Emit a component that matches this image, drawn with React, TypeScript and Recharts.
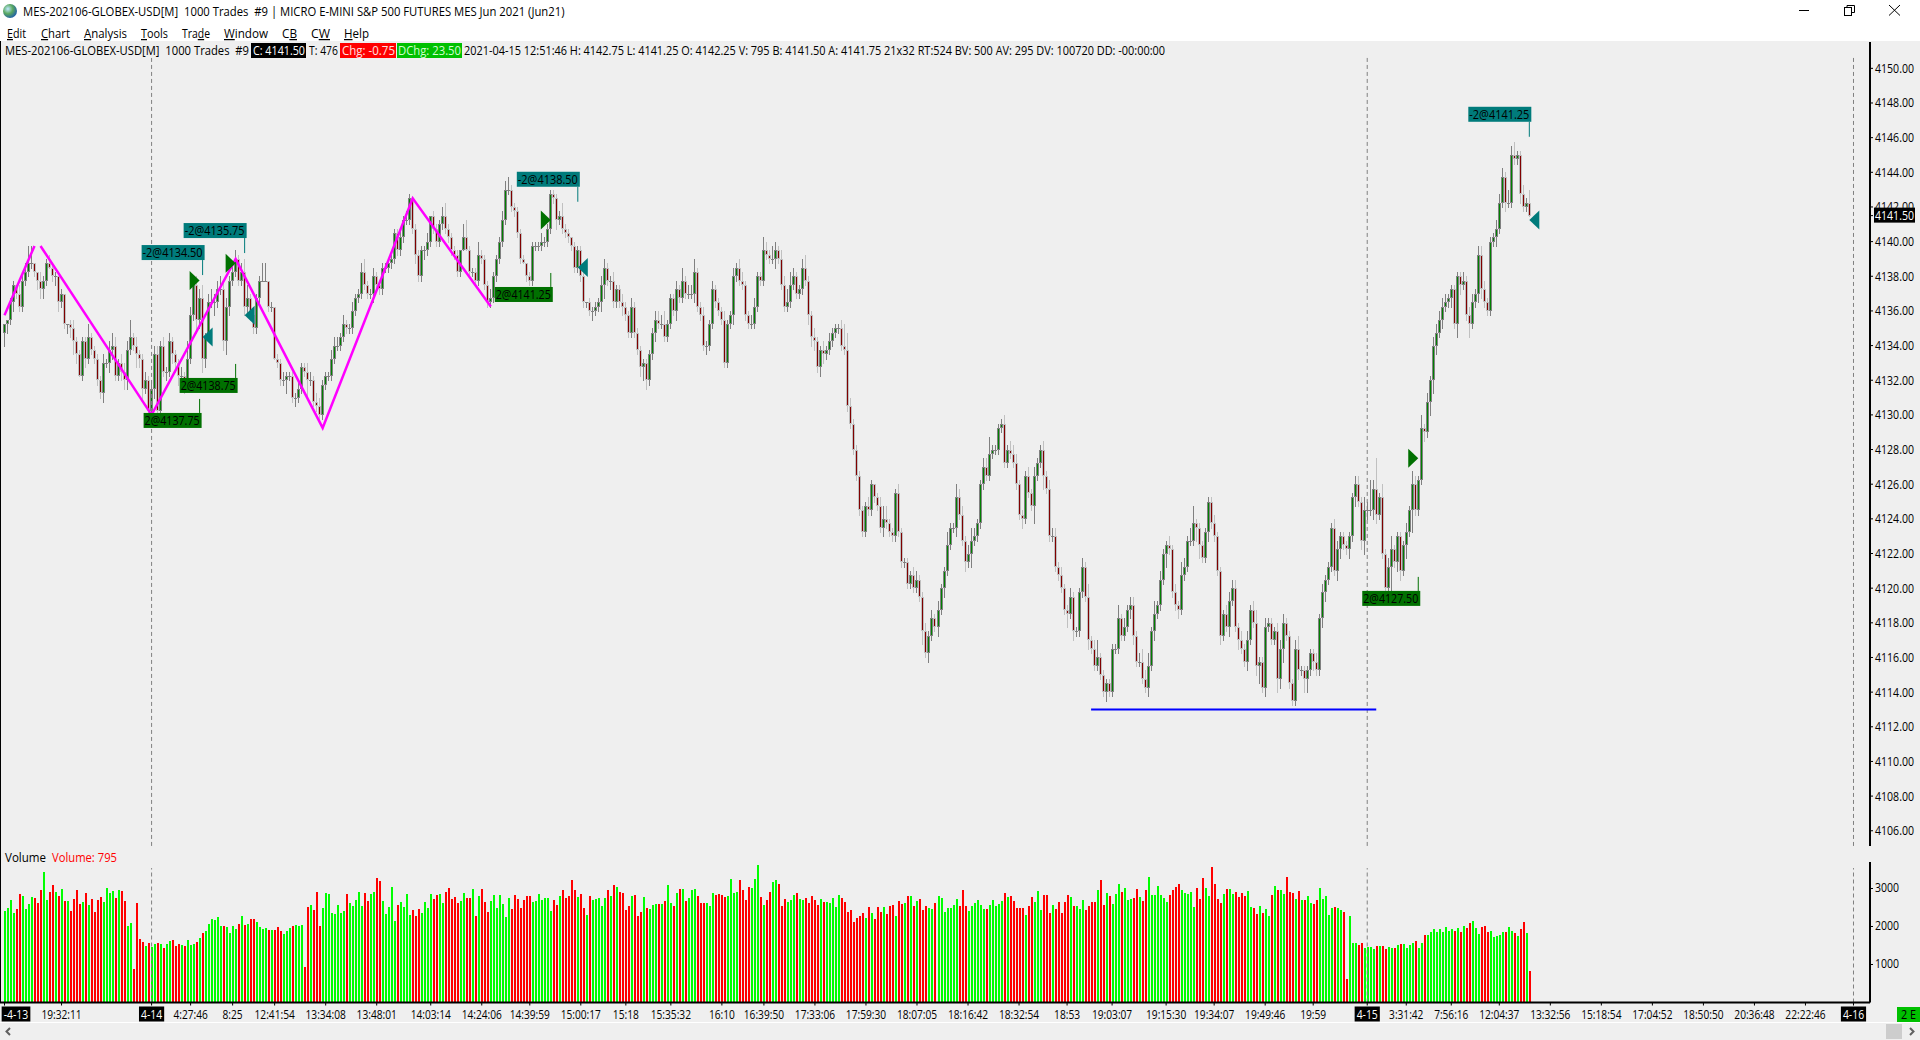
import React from 'react';
import { Bar, ComposedChart, Line, ReferenceDot, ReferenceLine, XAxis, YAxis } from 'recharts';

const BASE = 4100;
const SLOT_COUNT = 623;
const FONT = '"Open Sans", sans-serif';

// closes of the 1000-trade bars, as points above 4100. Each bar opens on the previous close.
const firstOpen = 34.75;
const closes = [
  35.25,35.5,36.5,37.5,37,36.25,37.75,38.25,38.75,38.75,
  38.25,37.75,37.25,37.75,38.75,38.5,38,38,36.5,37,
  35.25,35.25,35,34.25,33.5,32.25,34.25,33.25,34.5,33.75,
  33.25,32,31.25,33,33,33.75,34,32.25,33,32.5,
  32,33.75,34.5,34,33.5,33.25,31.5,32,30.25,31.5,
  33.5,30.25,34,32.5,32.5,34.25,33.5,33,32.25,32.25,
  32,33.25,35.75,37.5,35.5,36.75,33.25,34.5,36.5,36.5,
  36.5,37.25,37.25,34.25,36.25,37.75,38.25,39,37.75,38.25,
  36.25,36.75,35.75,35,36.75,37.75,37.75,37.75,36.25,36.25,
  33.25,33,32,32,32.25,32.25,31,31,31.5,32.75,
  32.5,32,32,30.75,30.5,30,31.75,32.25,32.25,33.25,
  34,34,34.5,35.25,35,35,36,36.75,37,38.25,
  37.5,37,37,38,37.5,37.25,38.5,38.5,38.75,39,
  40.5,39.5,40.25,41.25,41.25,42.5,40.75,39.25,38,39.5,
  39.5,40,41.5,40.75,40,41,41.5,40.75,40.25,39.5,
  39.25,38.25,39.5,40.25,39.5,38.25,38.25,37.75,39.25,39,
  37.5,36.5,36.75,38,39,40,41.25,43,43,42,
  41.75,40.5,39,38.75,38,37.75,39.75,39.75,39.75,40,
  40,40.75,42.75,42.5,41.25,41.5,40.75,40.5,40.25,39.75,
  38.5,39.5,38,36.5,36.5,36,36,36.25,36.5,37.5,
  38.5,37.75,37.75,36.5,37.25,36.5,36.25,35.75,34.75,36.25,
  34.75,33.75,32.75,33,32,33.5,34.75,35.5,35.25,35.25,
  34.5,35.25,36.75,36,37.25,36.75,37.75,37,37,37,
  38.25,36.25,35.75,34,34,35.25,37.25,36.5,36,35.5,
  33,35.25,35.75,38,38.5,37.75,37.5,35.75,35.25,35.25,
  36.25,38,37.75,39.5,39.25,39,39,39.5,39,37.5,
  36.25,36.5,37.5,38,37,37.25,38.5,37.75,35.75,34.5,
  34.25,32.75,33.75,33.5,33.75,34.25,34.75,35,35,34,
  33.75,30.5,29.5,28,26.5,24.5,23.25,24.75,24.5,26,
  25.25,24.75,23.5,24,23.75,23.25,23,25.5,23.25,21.5,
  21.5,20.25,20.75,20,20.5,19.5,17.5,16.25,17.25,18.25,
  17.75,18.75,20,21,22.5,23.5,23.5,25.25,24.25,22.75,
  21.5,22,22.75,23,23.75,26,27,26.5,27.75,28,
  28,29.25,29.5,27.25,28,27.75,27.25,26,24.25,24,
  26.5,25.5,24.75,26.5,27.25,28,26.5,25.75,23,23,
  21.25,20.75,20,18.75,18.5,19.5,17.5,17.5,19.75,21.25,
  19.5,17,16.5,15.5,16,15,14,14.5,14,16.5,
  16.5,18.25,17.25,17.75,18.75,19,17.25,15.75,15.75,14.75,
  14.25,15.5,17.5,18.5,19,20.5,22,22.5,22.25,19.75,
  19,18.75,20.75,21.25,22.75,22.75,23.75,23.5,22.5,21.75,
  23.25,25,23.75,23,21,17.25,18.5,17.75,19.25,20,
  17.75,17,16.5,15.75,17,18.75,18,15.5,15.75,14.25,
  17.75,18,17,17.5,14.75,16.5,18,17.25,14.5,13.5,
  16.5,15.25,15.25,14.75,15.25,16.25,15.75,15.25,18.25,19.75,
  20.5,21.25,23.5,21,22.25,23,22.5,22.25,23,25.25,
  26,25,22.75,24.5,24.5,24.5,25.75,24.25,25.25,22,
  20,21.25,22.25,21.5,23,21,22.5,23.25,24.5,26,
  24.5,26.25,29.25,29,30.75,32,34,34.75,35.5,36.25,
  36.5,36.75,37.25,35.25,38,37.5,37.75,35.75,35.25,36.5,
  37,39.25,37.25,36.5,36,40,40.25,40.75,42.25,43.75,
  42.25,42.25,45,44.75,45,42.75,42,42.25,41.5,
];

// wick lengths in 0.25 point ticks, above and below the body
const upWicks = [
  0,0,1,1,0,2,1,2,4,4, 0,0,2,1,1,2,1,1,0,1, 0,0,1,2,1,1,1,1,3,1, 1,1,1,2,1,2,3,2,1,2, 2,2,4,1,2,1,1,2,1,2,
  2,2,1,2,1,2,1,1,1,2, 1,4,2,1,2,2,3,1,2,3, 2,2,3,2,2,1,2,2,1,2, 3,3,1,2,1,1,4,4,0,1, 0,1,1,2,1,1,1,1,2,1,
  1,2,2,1,2,2,1,1,1,2, 2,2,1,2,1,1,2,1,1,2, 3,1,1,2,1,1,1,1,1,1, 1,1,2,1,2,1,0,1,1,1, 1,2,0,1,1,1,2,3,1,1,
  1,1,0,3,4,1,1,1,3,1, 1,1,2,1,1,1,2,2,3,1, 1,1,1,1,0,1,1,1,1,2, 1,1,1,1,1,1,3,1,1,0, 1,1,1,1,0,1,1,1,1,2,
  2,1,1,2,1,1,2,1,1,2, 1,1,1,1,1,1,1,2,2,2, 3,1,1,1,2,1,3,1,2,2, 3,1,1,2,1,1,2,1,1,1, 2,1,1,2,1,2,2,1,1,2,
  2,1,1,3,2,1,3,2,1,2, 2,3,3,2,1,1,2,3,1,1, 2,1,1,2,1,2,1,1,1,2, 5,4,2,1,1,1,1,1,2,1, 0,1,2,3,3,1,1,1,2,1,
  1,1,1,2,2,1,1,2,1,2, 1,2,1,1,3,1,1,3,2,2, 1,2,3,2,1,1,2,2,4,1, 1,1,1,2,1,2,2,2,1,1, 1,2,1,2,1,1,2,1,2,2,
  2,1,2,1,1,2,1,1,1,2, 1,3,1,2,4,1,1,1,1,1, 1,3,1,2,1,2,2,1,2,3, 2,3,1,3,1,2,1,1,2,1, 2,1,3,2,1,3,4,1,1,1,
  1,1,1,2,1,1,1,2,2,2, 2,1,2,1,2,1,2,3,1,1, 2,1,1,1,2,2,2,1,1,1, 2,3,1,1,1,1,1,2,1,2, 1,1,1,2,2,1,1,1,1,1,
  2,2,1,3,2,7,2,7,1,3, 1,2,3,1,1,1,1,2,1,3, 2,1,3,1,2,1,2,2,2,2, 2,1,1,1,1,1,2,1,2,2, 1,2,2,2,1,1,1,2,2,2,
  1,3,2,3,1,1,2,1,3,
];
const downWicks = [
  3,2,1,2,1,1,1,1,1,1, 1,2,2,2,1,0,1,2,2,1, 1,2,2,3,2,0,1,2,1,1, 1,1,1,2,1,2,2,1,1,2, 2,2,1,1,3,2,2,1,2,2,
  2,2,2,1,2,1,2,2,2,1, 3,1,1,1,3,2,3,2,1,1, 3,1,1,2,3,2,1,1,1,1, 2,2,1,1,1,1,0,0,1,1, 0,1,1,1,3,1,1,2,1,1,
  1,4,1,1,1,1,1,1,1,1, 1,1,1,1,1,1,1,1,1,1, 1,1,1,2,1,1,1,1,1,1, 1,1,1,1,1,1,1,2,1,1, 2,1,1,1,1,1,1,1,1,1,
  1,1,1,0,0,1,1,1,1,1, 1,1,1,1,1,1,1,1,1,1, 1,1,1,0,1,1,1,1,1,1, 1,1,1,1,2,1,1,1,1,1, 1,1,1,1,1,1,2,1,1,2,
  3,1,2,1,1,1,2,1,1,1, 1,1,2,3,2,1,1,2,1,1, 1,1,1,1,2,1,1,1,1,1, 2,1,1,1,2,1,1,1,1,1, 1,1,1,2,1,1,1,1,1,1,
  1,1,1,1,1,1,1,2,1,1, 1,1,1,1,1,1,1,1,2,2, 2,1,2,2,1,1,1,1,1,1, 1,1,1,1,1,1,1,1,1,1, 1,1,1,2,1,1,1,1,1,1,
  1,1,1,1,1,1,3,1,2,1, 1,2,1,2,1,1,1,2,1,1, 2,1,3,1,1,1,1,1,1,1, 1,1,1,1,1,1,1,1,1,2, 1,1,1,4,1,1,3,1,1,1,
  1,1,1,1,3,1,2,1,1,1, 1,2,1,1,1,1,1,2,1,1, 1,1,1,1,1,2,2,1,1,1, 1,2,1,2,1,1,1,3,1,1, 1,2,1,1,1,1,1,3,3,1,
  1,2,1,1,1,2,1,1,2,1, 1,2,1,1,2,1,1,2,4,1, 2,1,1,1,3,2,3,1,1,1, 1,2,1,3,3,1,2,1,1,2, 2,1,1,1,2,2,1,1,2,1,
  2,1,2,3,2,1,2,2,1,1, 1,2,6,1,2,2,1,3,1,5, 1,1,1,2,1,3,3,2,1,2, 1,1,2,1,3,2,1,1,3,1, 1,2,2,1,1,1,1,2,1,1,
  2,1,1,1,1,2,1,1,0,
];

const volumes = [
  2410,2480,2700,2360,2460,2860,2800,2460,2590,2780,2750,2620,2960,3430,2700,2910,3090,2910,2800,2990,
  2670,2670,2410,2720,2960,2590,2640,2880,2570,2720,2380,2700,2780,2640,3010,2880,2930,2750,2960,2930,
  2670,2010,2090,880,2620,1670,1590,1490,1570,1460,1540,1570,1540,1430,1540,1620,1640,1490,1540,1510,
  1490,1640,1510,1540,1590,1700,1830,1880,2070,2200,2170,2250,2010,2010,1990,1830,2010,1930,2070,2280,
  2040,2070,2200,2200,2120,1990,1930,1960,1910,1910,1910,1990,1880,1800,1880,1960,2010,2040,2010,2040,
  930,2510,2570,2430,2910,2010,2490,2880,2860,2350,2330,2570,2350,2410,2860,2620,2540,2700,2910,2540,
  2880,2670,2860,2910,3280,3200,2670,2330,2510,3040,2140,2570,2640,2510,2860,2300,2430,2280,2460,2350,
  2640,2490,2860,2720,2830,2860,2620,2910,3010,2720,2780,2620,2670,2880,2750,2750,2990,2280,2800,2990,
  2640,2380,2670,2830,2490,2830,2590,2250,2750,2460,2830,2720,2490,2700,2800,2800,2640,2670,2860,2700,
  2750,2750,2410,2700,2570,2800,2960,2750,2800,3220,2960,2780,2860,2490,2300,2800,2700,2720,2750,2540,
  2750,2960,2800,3090,3040,2910,2880,2430,2540,2800,2830,2280,
  2380,2780,2490,2460,2570,2590,2590,2590,2670,3090,2620,2540,2880,2990,2990,2670,2750,2960,2990,2800,
  2620,2620,2620,2540,2880,2830,2860,2830,2780,2800,3250,2880,2910,3220,2960,2700,3040,3010,3250,3620,
  2780,2570,2700,2910,3170,3220,3120,2540,2720,2640,2700,2830,2880,2720,2700,2750,2620,2800,2700,2570,
  2720,2640,2640,2620,2750,2510,2830,2750,2640,2380,2430,2120,2220,2280,2350,2220,2510,2350,2200,2510,
  2380,2510,2330,2540,2570,2280,2670,2590,2620,2800,2800,2540,2670,2720,2430,2540,2490,2470,2620,2800,
  2750,2380,2490,2490,2570,2720,2540,2960,2540,2410,2540,2620,2700,2570,2460,2460,2570,2700,2540,2590,
  2670,2880,2780,2800,2670,2490,2490,2490,2300,2540,2780,2640,2930,2430,2830,2830,2350,2570,2460,2640,
  2350,2640,2830,2780,2540,2540,2460,2700,2430,2540,2640,2640,2960,3220,2570,2880,2800,2590,2860,3120,
  2910,3010,2700,2720,2750,2990,2780,2670,2960,3300,2830,2830,3070,2830,2750,2640,2830,2960,3040,3120,
  2960,2880,2860,2910,2510,3010,2720,3280,3010,2800,3570,3120,2720,2620,2860,2990,2990,2860,2910,2780,
  2880,2800,2930,2510,2490,2330,2540,2350,2460,2280,2830,3070,2960,
  2960,2860,3300,2910,2880,2720,2930,2700,2700,2800,2620,2590,2700,3010,2720,2800,2300,2490,2510,2490,
  2430,2380,620,2280,1570,1570,1510,1570,1430,1460,1460,1410,1490,1490,1490,1410,1460,1430,1430,1510,
  1540,1540,1430,1510,1570,1620,1430,1570,1780,1780,1850,1930,1850,1930,1850,1990,1880,1930,1880,1960,
  1850,2010,1960,2090,2140,1960,1800,1990,2010,1850,1880,1720,1750,1780,1850,1850,1990,1880,1830,1750,
  1930,2120,1830,830,
];

const priceTicks = [4150,4148,4146,4144,4142,4140,4138,4136,4134,4132,4130,4128,4126,4124,4122,4120,4118,4116,4114,4112,4110,4108,4106];
const lastPrice = 4141.5;
const volumeTicks = [1000, 2000, 3000];

const timeSlots = [1,20,50,63,77,91,108,125,143,160,176,193,208,223,240,254,271,288,305,322,339,355,370,388,404,421,437,455,468,483,499,516,533,550,567,584,601,617];
const timeLabels = ['-4-13','19:32:11','4-14','4:27:46','8:25','12:41:54','13:34:08','13:48:01','14:03:14','14:24:06','14:39:59','15:00:17','15:18','15:35:32','16:10','16:39:50','17:33:06','17:59:30','18:07:05','18:16:42','18:32:54','18:53','19:03:07','19:15:30','19:34:07','19:49:46','19:59','4-15','3:31:42','7:56:16','12:04:37','13:32:56','15:18:54','17:04:52','18:50:50','20:36:48','22:22:46','4-16'];

const dayLineSlots = [50, 455, 617];

const zigASlots = [1, 11];
const zigAPrices = [4135.75, 4139.75];
const zigBSlots = [13, 50, 78, 107, 137, 163];
const zigBPrices = [4139.75, 4130, 4139, 4129.25, 4142.5, 4136.25];
const lowLineSlots = [363, 458];
const lowLinePrice = 4113;

// fills: order quantity, fill price, bar slot, price the label's stem points at
const buyQty = [2, 2, 2, 2];
const buyPrices = [4137.75, 4138.75, 4141.25, 4127.5];
const buySlots = [66, 78, 183, 472];
const buyStems = [4130.92, 4132.94, 4138.19, 4120.65];
const sellQty = [-2, -2, -2, -2];
const sellPrices = [4134.5, 4135.75, 4138.5, 4141.25];
const sellSlots = [67, 81, 192, 509];
const sellStems = [4138.07, 4139.34, 4142.3, 4146.05];

const PRICE_HEIGHT = 804;
const PRICE_TOP = 4151.52;
const PRICE_BOTTOM = 4105.12;
const PX_PER_POINT = PRICE_HEIGHT / (PRICE_TOP - PRICE_BOTTOM);

const rows = Array.from({ length: SLOT_COUNT }, (_, slot) => {
  const i = slot - 1;
  const row: any = { slot };
  if (i >= 0 && i < closes.length) {
    const o = BASE + (i === 0 ? firstOpen : closes[i - 1]);
    const c = BASE + closes[i];
    const h = Math.max(o, c) + (upWicks[i] ?? 0) * 0.25;
    const l = Math.min(o, c) - (downWicks[i] ?? 0) * 0.25;
    Object.assign(row, { o, c, h, l, range: [l, h], vol: volumes[i] });
  }
  const a = zigASlots.indexOf(slot);
  if (a >= 0) row.zigA = zigAPrices[a];
  const b = zigBSlots.indexOf(slot);
  if (b >= 0) row.zigB = zigBPrices[b];
  const n = lowLineSlots.indexOf(slot);
  if (n >= 0) row.lowLine = lowLinePrice;
  return row;
});

// rough pixel width of the narrow platform font, used for textLength
const textWidth = (s: string) => {
  let w = 0;
  for (const ch of s) w += ch === '@' ? 11 : ch === ':' || ch === '.' ? 2.4 : ch === '-' ? 3.5 : 5.9;
  return w;
};

const Txt = ({ x, y, w, fill = '#000', anchor = 'start', children }: any) => (
  <text x={x} y={y} textLength={w} lengthAdjust="spacingAndGlyphs" textAnchor={anchor} fill={fill}
    fontFamily={FONT} fontSize={12.5} style={{ whiteSpace: 'pre' }}>
    {children}
  </text>
);

const Candle = (props: any) => {
  const { x, width, y, payload } = props;
  if (!payload || payload.c == null) return null;
  const { o, c, h, l } = payload;
  const cx = Math.round(x + width / 2 - 0.5) + 0.5;
  const up = c >= o;
  const edge = up ? '#808080' : '#c0c0c0';
  const core = up ? '#008000' : '#800000';
  const bodyTop = y + (h - Math.max(o, c)) * PX_PER_POINT;
  const bodyH = Math.abs(o - c) * PX_PER_POINT;
  return (
    <g shapeRendering="crispEdges">
      <rect x={cx - 0.5} y={y} width={1} height={(h - l) * PX_PER_POINT + 1} fill={edge} />
      <rect x={cx - 1.5} y={bodyTop} width={3} height={Math.max(bodyH, 1)} fill={edge} />
      {bodyH > 2 && <rect x={cx - 0.5} y={bodyTop + 1} width={1} height={bodyH - 2} fill={core} />}
    </g>
  );
};

const VolumeBar = (props: any) => {
  const { x, width, y, height, payload } = props;
  if (!payload || payload.vol == null) return null;
  const left = Math.round(x + width / 2 - 1);
  return (
    <rect x={left} y={y} width={2} height={height} shapeRendering="crispEdges"
      fill={payload.c >= payload.o ? '#00ff00' : '#ff0000'} />
  );
};

const PriceTick = ({ x, y, payload }: any) => {
  const label = payload.value.toFixed(2);
  if (payload.value === lastPrice) {
    return (
      <g>
        <rect x={x + 1} y={y - 8} width={41} height={15} fill="#000" />
        <Txt x={x + 2} y={y + 4.5} w={39} fill="#fff">{label}</Txt>
      </g>
    );
  }
  return <Txt x={x + 2} y={y + 4.5} w={39}>{label}</Txt>;
};

const VolumeTick = ({ x, y, payload }: any) => (
  <Txt x={x + 2} y={y + 3.5} w={24}>{String(payload.value)}</Txt>
);

const TimeTick = ({ x, y, payload }: any) => {
  const label = timeLabels[timeSlots.indexOf(payload.value)] ?? '';
  const isDate = label.includes('-');
  const cx = label === '-4-13' ? x + 11.5 : x;
  const w = textWidth(label);
  return (
    <g>
      {isDate && <rect x={cx - w / 2 - 2} y={y} width={w + 4} height={15} fill="#000" />}
      <Txt x={cx} y={y + 12} w={w} anchor="middle" fill={isDate ? '#fff' : '#000'}>{label}</Txt>
    </g>
  );
};

const BuyMark = ({ cx, cy }: any) => (
  <polygon points={`${cx - 10},${cy - 9.5} ${cx},${cy} ${cx - 10},${cy + 9.5}`} fill="#007000" />
);
const SellMark = ({ cx, cy }: any) => (
  <polygon points={`${cx + 10},${cy - 9.5} ${cx},${cy} ${cx + 10},${cy + 9.5}`} fill="#007b7b" />
);

const BuyLabel = ({ cx, cy, text }: any) => (
  <g>
    <line x1={cx} x2={cx} y1={cy} y2={cy + 14} stroke="#007000" />
    <rect x={cx - 56} y={cy + 14} width={58} height={15} fill="#007000" />
    <Txt x={cx - 55} y={cy + 26} w={55}>{text}</Txt>
  </g>
);
const SellLabel = ({ cx, cy, text }: any) => (
  <g>
    <line x1={cx} x2={cx} y1={cy} y2={cy - 15} stroke="#007b7b" />
    <rect x={cx - 61} y={cy - 30} width={63} height={15} fill="#007b7b" />
    <Txt x={cx - 60} y={cy - 18} w={60}>{text}</Txt>
  </g>
);

const PriceChart = () => (
  <ComposedChart width={1920} height={PRICE_HEIGHT} data={rows} margin={{ top: 0, right: 0, bottom: 0, left: 0 }} barCategoryGap={0}>
    <XAxis dataKey="slot" hide />
    <YAxis
      orientation="right"
      width={50}
      domain={[PRICE_BOTTOM, PRICE_TOP]}
      allowDataOverflow
      ticks={[...priceTicks, lastPrice]}
      interval={0}
      tick={<PriceTick />}
      tickSize={3}
      tickMargin={0}
      axisLine={{ stroke: '#000', strokeWidth: 2 }}
      tickLine={{ stroke: '#000' }}
    />
    {dayLineSlots.map((s) => (
      <ReferenceLine key={s} segment={[{ x: s, y: 4150.6 }, { x: s, y: PRICE_BOTTOM }]} stroke="#808080" strokeDasharray="4 3" />
    ))}
    <Bar dataKey="range" barSize={3} shape={<Candle />} isAnimationActive={false} />
    <Line dataKey="zigA" stroke="#ff00ff" strokeWidth={2.5} dot={false} connectNulls isAnimationActive={false} />
    <Line dataKey="zigB" stroke="#ff00ff" strokeWidth={2.5} dot={false} connectNulls isAnimationActive={false} />
    <Line dataKey="lowLine" stroke="#0000ff" strokeWidth={2} dot={false} connectNulls isAnimationActive={false} />
    {buyPrices.map((p, k) => (
      <ReferenceDot key={`bm${k}`} x={buySlots[k]} y={p} shape={<BuyMark />} />
    ))}
    {sellPrices.map((p, k) => (
      <ReferenceDot key={`sm${k}`} x={sellSlots[k]} y={p} shape={<SellMark />} />
    ))}
    {buyPrices.map((p, k) => (
      <ReferenceDot key={`bl${k}`} x={buySlots[k]} y={buyStems[k]} shape={<BuyLabel text={`${buyQty[k]}@${p.toFixed(2)}`} />} />
    ))}
    {sellPrices.map((p, k) => (
      <ReferenceDot key={`sl${k}`} x={sellSlots[k]} y={sellStems[k]} shape={<SellLabel text={`${sellQty[k]}@${p.toFixed(2)}`} />} />
    ))}
  </ComposedChart>
);

const VolumeChart = () => (
  <ComposedChart width={1920} height={161} data={rows} margin={{ top: 0, right: 0, bottom: 0, left: 0 }} barCategoryGap={0}>
    <XAxis
      dataKey="slot"
      height={20.5}
      ticks={timeSlots}
      interval={0}
      tick={<TimeTick />}
      tickSize={3}
      tickMargin={1}
      axisLine={{ stroke: '#000', strokeWidth: 2 }}
      tickLine={{ stroke: '#000' }}
    />
    <YAxis
      orientation="right"
      width={50}
      domain={[0, 3697]}
      allowDataOverflow
      ticks={volumeTicks}
      interval={0}
      tick={<VolumeTick />}
      tickSize={3}
      tickMargin={0}
      axisLine={{ stroke: '#000', strokeWidth: 2 }}
      tickLine={{ stroke: '#000' }}
    />
    {dayLineSlots.map((s) => (
      <ReferenceLine key={s} segment={[{ x: s, y: 0 }, { x: s, y: 3537 }]} stroke="#808080" strokeDasharray="4 3" />
    ))}
    <Bar dataKey="vol" barSize={2} shape={<VolumeBar />} isAnimationActive={false} />
  </ComposedChart>
);

const menuItems = ['Edit', 'Chart', 'Analysis', 'Tools', 'Trade', 'Window', 'CB', 'CW', 'Help'];
const menuX = [7, 41, 84, 141, 182, 224, 282, 311, 344];
const menuW = [19, 29, 43, 27, 28, 44, 15, 19, 25];
const menuKey = [0, 0, 0, 0, 3, 0, 1, 1, 0];

const Frame = () => (
  <svg width={1920} height={1040} style={{ position: 'absolute', left: 0, top: 0 }}>
    <defs>
      <radialGradient id="globe" cx="35%" cy="35%" r="70%">
        <stop offset="0%" stopColor="#bfe8ff" />
        <stop offset="50%" stopColor="#5aa860" />
        <stop offset="100%" stopColor="#1f5fa8" />
      </radialGradient>
    </defs>
    <rect x={0} y={0} width={1920} height={41} fill="#fff" />
    <rect x={0} y={1022} width={1920} height={1} fill="#fff" />
    <rect x={0} y={41} width={1} height={962} fill="#000" />
    <circle cx={10} cy={11} r={7} fill="url(#globe)" />
    <Txt x={23} y={16} w={541.5}>MES-202106-GLOBEX-USD[M]  1000 Trades  #9 | MICRO E-MINI S&amp;P 500 FUTURES MES Jun 2021 (Jun21)</Txt>
    {menuItems.map((m, k) => (
      <Txt key={m} x={menuX[k]} y={38} w={menuW[k]}>
        {m.slice(0, menuKey[k])}
        <tspan textDecoration="underline">{m[menuKey[k]]}</tspan>
        {m.slice(menuKey[k] + 1)}
      </Txt>
    ))}
    <line x1={1799} x2={1809} y1={10.5} y2={10.5} stroke="#000" />
    <rect x={1844.5} y={7.5} width={7} height={8} fill="#fff" stroke="#000" />
    <path d="M1847 7.5 V5.5 H1854.5 V12.5 H1851.5" fill="none" stroke="#000" />
    <path d="M1889 5 L1900 15.5 M1900 5 L1889 15.5" stroke="#000" fill="none" />

    <Txt x={5} y={55} w={244}>MES-202106-GLOBEX-USD[M]  1000 Trades  #9</Txt>
    <rect x={251} y={43} width={55} height={15} fill="#000" />
    <Txt x={253} y={55} w={52} fill="#fff">C: 4141.50</Txt>
    <Txt x={309} y={55} w={29}>T: 476</Txt>
    <rect x={340} y={43} width={56} height={15} fill="#ff0000" />
    <Txt x={342} y={55} w={53} fill="#ffe0e0">Chg: -0.75</Txt>
    <rect x={397} y={43} width={65} height={15} fill="#00c000" />
    <Txt x={398} y={55} w={63} fill="#d0ffd0">DChg: 23.50</Txt>
    <Txt x={464} y={55} w={701}>2021-04-15 12:51:46 H: 4142.75 L: 4141.25 O: 4142.25 V: 795 B: 4141.50 A: 4141.75 21x32 RT:524 BV: 500 AV: 295 DV: 100720 DD: -00:00:00</Txt>

    <Txt x={5} y={862} w={41}>Volume</Txt>
    <Txt x={52} y={862} w={65} fill="#ff0000">Volume: 795</Txt>

    <rect x={1897} y={1007} width={23} height={15} fill="#00c000" />
    <Txt x={1901} y={1019} w={15}>2 E</Txt>
    <rect x={1886} y={1024} width={16} height={15} fill="#cdcdcd" />
    <path d="M10 1028 L6.5 1031.5 L10 1035" fill="none" stroke="#606060" strokeWidth={2} />
    <path d="M1910 1028 L1913.5 1031.5 L1910 1035" fill="none" stroke="#606060" strokeWidth={2} />
  </svg>
);

export default function App() {
  return (
    <div style={{ position: 'fixed', left: 0, top: 0, width: 1920, height: 1040, background: '#efefef', overflow: 'hidden' }}>
      <Frame />
      <div style={{ position: 'absolute', left: 0, top: 42 }}>
        <PriceChart />
      </div>
      <div style={{ position: 'absolute', left: 0, top: 862 }}>
        <VolumeChart />
      </div>
    </div>
  );
}
